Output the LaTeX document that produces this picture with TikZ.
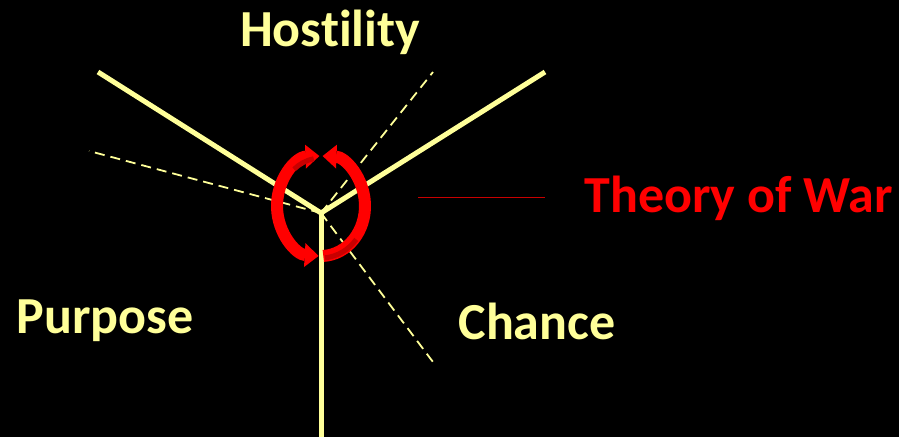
\documentclass[tikz,border=0pt]{standalone}
\usepackage{fontspec}
\setmainfont{Carlito}[Ligatures=NoCommon]
\usepackage{xcolor}
\usetikzlibrary{arrows.meta}
\definecolor{paleyellow}{RGB}{255,255,153}
\definecolor{warred}{RGB}{255,0,0}
\definecolor{darkwarred}{RGB}{200,0,0}

\begin{document}
\begin{tikzpicture}[x=1pt, y=1pt,
    leg/.style={line width=5pt, paleyellow},
    guide/.style={line width=1.8pt, paleyellow, dash pattern=on 10pt off 6pt},
    force/.style={font=\fontsize{52}{60}\selectfont\bfseries, text=paleyellow, inner sep=0pt},
    ring/.style={line width=12pt, warred, >={Triangle[width=23pt,length=14pt]}}]
    \fill[black] (0,0) rectangle (899,437);
    \useasboundingbox (0,0) rectangle (899,437);
    % Centre of the trinity and line ends
    \coordinate (center) at (321,224);
    \coordinate (ul) at (98,365);
    \coordinate (ur) at (545,365);
    \coordinate (down) at (321,0);
    \coordinate (dl) at (89,286);
    \coordinate (dur) at (433,365);
    \coordinate (ddr) at (433,75);
    % Solid legs
    \draw[leg] (center) -- (ul);
    \draw[leg] (center) -- (ur);
    \draw[leg] (center) -- (down);
    % Dashed guides
    \draw[guide] (center) -- (dl);
    \draw[guide] (center) -- (dur);
    \draw[guide] (center) -- (ddr);
    % Circular arrows
    \coordinate (hub) at (321,231);
    \draw[ring, <->] (hub) ++(92:44 and 50) arc[start angle=92, end angle=267, x radius=44, y radius=50];
    \draw[ring, ->] (hub) ++(273:44 and 50) arc[start angle=273, end angle=448, x radius=44, y radius=50];
    \draw[darkwarred, line width=5pt] (hub) ++(100:42 and 48) arc[start angle=100, end angle=130, x radius=42, y radius=48];
    \draw[darkwarred, line width=5pt] (hub) ++(275:46 and 52) arc[start angle=275, end angle=320, x radius=46, y radius=52];
    % Labels
    \node[force] (hostility) at (330,405) {Hostility};
    \node[force] (purpose) at (105,116) {Purpose};
    \node[force] (chance) at (537,116) {Chance};
    \node[force, text=warred, anchor=east] (theory) at (893,239) {Theory of War};
    \coordinate (pointer) at (418,239);
    \draw[darkwarred, line width=1pt] (pointer) -- (pointer -| 545,0);
\end{tikzpicture}
\end{document}
